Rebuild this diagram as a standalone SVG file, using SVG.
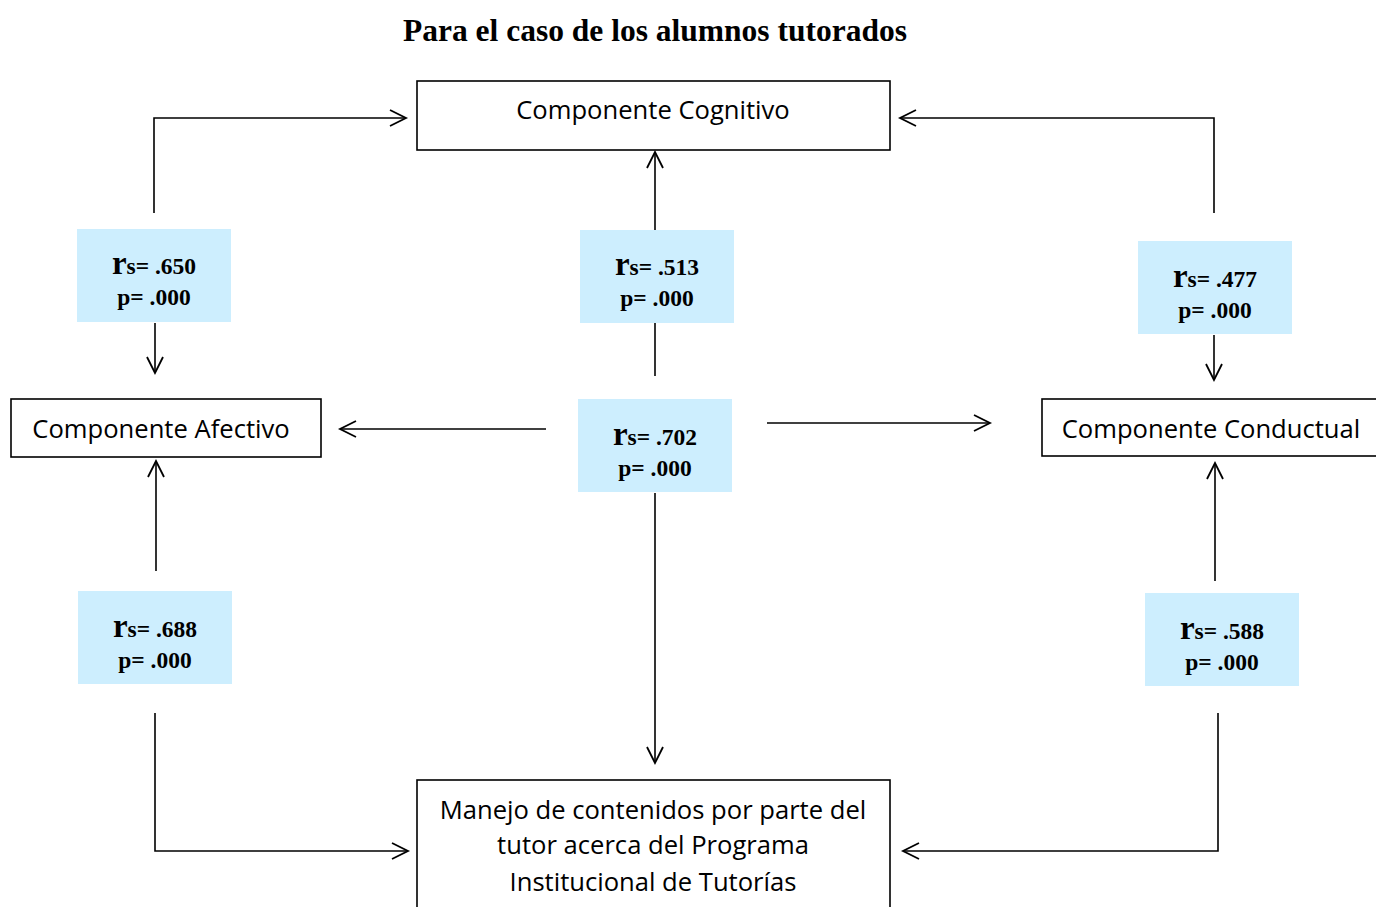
<svg xmlns="http://www.w3.org/2000/svg" width="1376" height="907" viewBox="0 0 1376 907">
<style>
.node{fill:#fff;stroke:#000;stroke-width:1.6}
.nt{font-family:"Open Sans","Noto Sans",sans-serif;font-size:25.6px;fill:#000;text-anchor:middle}
.lb{fill:#cdeefe}
.lt{font-family:"Liberation Serif",serif;font-weight:bold;font-size:23.5px;fill:#000;text-anchor:middle}
.big{font-size:33px}
.title{font-family:"Liberation Serif",serif;font-weight:bold;font-size:31.5px;text-anchor:middle}
.c{fill:none;stroke:#000;stroke-width:1.6}
</style>
<defs>
<marker id="ah" markerUnits="userSpaceOnUse" markerWidth="24" markerHeight="20" refX="18" refY="9" orient="auto" viewBox="0 0 24 20">
<path d="M2,1 L18,9 L2,17" fill="none" stroke="#000" stroke-width="1.8"/>
</marker>
</defs>
<rect width="1376" height="907" fill="#fff"/>
<text class="title" x="655" y="41">Para el caso de los alumnos tutorados</text>

<g id="connectors">
<path class="c" d="M154,213 L154,118 L406,118" marker-end="url(#ah)"/>
<path class="c" d="M155,323 L155,373" marker-end="url(#ah)"/>
<path class="c" d="M655,230 L655,152" marker-end="url(#ah)"/>
<path class="c" d="M655,323 L655,376"/>
<path class="c" d="M1214,213 L1214,118 L900,118" marker-end="url(#ah)"/>
<path class="c" d="M1214,335 L1214,380" marker-end="url(#ah)"/>
<path class="c" d="M546,429 L340,429" marker-end="url(#ah)"/>
<path class="c" d="M767,423 L990,423" marker-end="url(#ah)"/>
<path class="c" d="M655,493 L655,763" marker-end="url(#ah)"/>
<path class="c" d="M156,571 L156,461" marker-end="url(#ah)"/>
<path class="c" d="M155,713 L155,851 L408,851" marker-end="url(#ah)"/>
<path class="c" d="M1215,581 L1215,463" marker-end="url(#ah)"/>
<path class="c" d="M1218,713 L1218,851 L903,851" marker-end="url(#ah)"/>
</g>

<g id="cognitivo">
<rect class="node" x="417" y="81" width="473" height="69"/>
<text class="nt" x="653" y="119">Componente Cognitivo</text>
</g>
<g id="afectivo">
<rect class="node" x="11" y="399" width="310" height="58"/>
<text class="nt" x="161" y="438">Componente Afectivo</text>
</g>
<g id="conductual">
<rect class="node" x="1042" y="399" width="340" height="57"/>
<text class="nt" x="1211" y="438">Componente Conductual</text>
</g>
<g id="manejo">
<rect class="node" x="417" y="780" width="473" height="140"/>
<text class="nt" x="653" y="819">Manejo de contenidos por parte del</text>
<text class="nt" x="653" y="854">tutor acerca del Programa</text>
<text class="nt" x="653" y="891">Institucional de Tutorías</text>
</g>

<g id="r650">
<rect class="lb" x="77" y="229" width="154" height="93"/>
<text class="lt" x="154" y="274"><tspan class="big">r</tspan>s= .650</text>
<text class="lt" x="154" y="305">p= .000</text>
</g>
<g id="r513">
<rect class="lb" x="580" y="230" width="154" height="93"/>
<text class="lt" x="657" y="275"><tspan class="big">r</tspan>s= .513</text>
<text class="lt" x="657" y="306">p= .000</text>
</g>
<g id="r477">
<rect class="lb" x="1138" y="241" width="154" height="93"/>
<text class="lt" x="1215" y="287"><tspan class="big">r</tspan>s= .477</text>
<text class="lt" x="1215" y="318">p= .000</text>
</g>
<g id="r702">
<rect class="lb" x="578" y="399" width="154" height="93"/>
<text class="lt" x="655" y="445"><tspan class="big">r</tspan>s= .702</text>
<text class="lt" x="655" y="476">p= .000</text>
</g>
<g id="r688">
<rect class="lb" x="78" y="591" width="154" height="93"/>
<text class="lt" x="155" y="637"><tspan class="big">r</tspan>s= .688</text>
<text class="lt" x="155" y="668">p= .000</text>
</g>
<g id="r588">
<rect class="lb" x="1145" y="593" width="154" height="93"/>
<text class="lt" x="1222" y="639"><tspan class="big">r</tspan>s= .588</text>
<text class="lt" x="1222" y="670">p= .000</text>
</g>
</svg>
